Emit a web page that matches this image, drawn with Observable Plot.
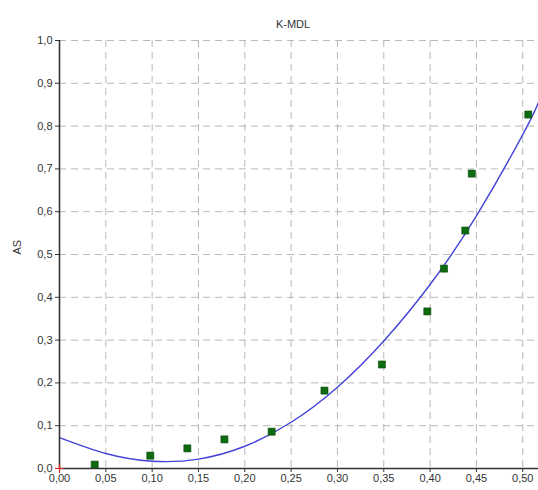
<!DOCTYPE html>
<html>
<head>
<meta charset="utf-8">
<script src="https://cdn.jsdelivr.net/npm/d3@7"></script>
<script src="https://cdn.jsdelivr.net/npm/@observablehq/plot@0.6"></script>
<style>
  html, body { margin: 0; padding: 0; background: #fff; }
  svg { display: block; }
</style>
</head>
<body>
<div id="chart"></div>
<script>
const title = "K-MDL";
const yLabel = "AS";

// measured points
const pointX = [0.038, 0.098, 0.138, 0.178, 0.229, 0.286, 0.348, 0.397, 0.415, 0.438, 0.445, 0.506];
const pointY = [0.009, 0.030, 0.047, 0.068, 0.086, 0.182, 0.243, 0.367, 0.467, 0.556, 0.689, 0.827];

// fitted curve
const curveX = [0.00, 0.05, 0.10, 0.15, 0.20, 0.25, 0.30, 0.35, 0.40, 0.45, 0.50, 0.517];
const curveY = [0.072, 0.035, 0.017, 0.022, 0.052, 0.108, 0.190, 0.298, 0.430, 0.590, 0.780, 0.855];

const xTicks = [0, 0.05, 0.10, 0.15, 0.20, 0.25, 0.30, 0.35, 0.40, 0.45, 0.50];
const yTicks = [0, 0.1, 0.2, 0.3, 0.4, 0.5, 0.6, 0.7, 0.8, 0.9, 1.0];
const origin = [{x: 0, y: 0}];

const points = pointX.map((x, i) => ({x, y: pointY[i]}));
const curve = curveX.map((x, i) => ({x, y: curveY[i]}));

const fmt = (d, n) => d.toFixed(n).replace(".", ",");

const chart = Plot.plot({
  width: 538,
  height: 490,
  marginLeft: 59,
  marginRight: 0,
  marginTop: 40,
  marginBottom: 22,
  style: {fontFamily: "Arial, 'Liberation Sans', sans-serif", fontSize: "11px", color: "#333", background: "#fff"},
  x: {domain: [0, 0.517]},
  y: {domain: [0, 1]},
  marks: [
    Plot.gridX(xTicks.slice(1), {stroke: "#b8b8b8", strokeOpacity: 1, strokeDasharray: "7,5"}),
    Plot.gridY(yTicks.slice(1), {stroke: "#b8b8b8", strokeOpacity: 1, strokeDasharray: "7,5"}),
    Plot.line(curve, {x: "x", y: "y", curve: "natural", stroke: "#4343d8", strokeWidth: 1.4}),
    Plot.dot(points, {x: "x", y: "y", symbol: "square", r: 4, fill: "#0e6a0e", stroke: "#0a4d0a", strokeWidth: 0.6}),
    Plot.axisX({ticks: xTicks, tickFormat: d => fmt(d, 2), tickSize: 4, tickPadding: 2, label: null, stroke: "#333"}),
    Plot.axisY({ticks: yTicks, tickFormat: d => fmt(d, 1), tickSize: 4, tickPadding: 3, label: null, stroke: "#333"}),
    Plot.ruleX([0], {stroke: "#333", strokeWidth: 1.6}),
    Plot.ruleY([0], {stroke: "#333", strokeWidth: 1.6}),
    Plot.dot(origin, {x: "x", y: "y", symbol: "plus", r: 3, stroke: "#e02020", strokeWidth: 1.2}),
    Plot.text([title], {frameAnchor: "top", dy: -20, dx: -6, fill: "#333", fontSize: 11}),
    Plot.text([yLabel], {frameAnchor: "left", dx: -42, rotate: -90, fill: "#333", fontSize: 11})
  ]
});

document.getElementById("chart").appendChild(chart);
</script>
</body>
</html>
